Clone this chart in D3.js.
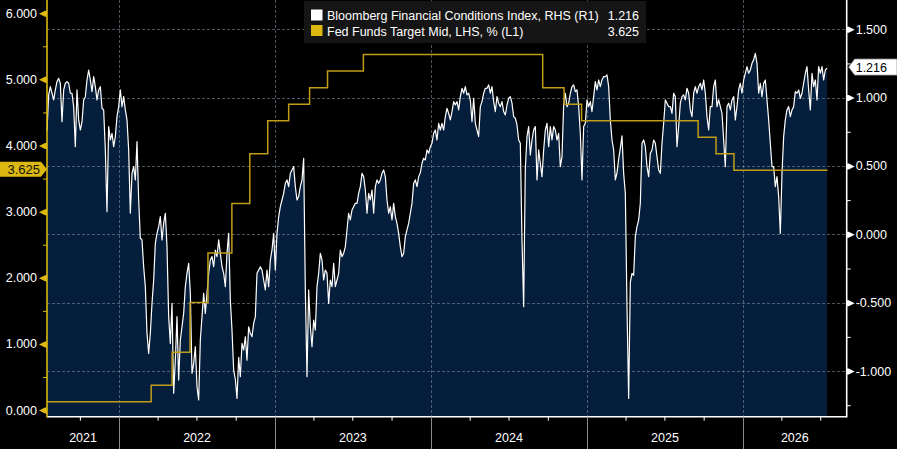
<!DOCTYPE html>
<html>
<head>
<meta charset="utf-8">
<script src="https://cdn.jsdelivr.net/npm/d3@7"></script>
<style>
  body { margin: 0; background: #000; }
  svg { display: block; font-family: "Liberation Sans", Arial, sans-serif; }
</style>
</head>
<body>
<div id="chart"></div>
<script>
// --- data ---
const bfciName = "Bloomberg Financial Conditions Index, RHS (R1)";
const fedName = "Fed Funds Target Mid, LHS, % (L1)";

// BFCI sampled roughly every 3.9 days from the start date
const bfciStart = "2021-07-16";
const bfciStepDays = 3.9035;
const bfci = [
  0.76, 1.02, 1.08, 1.032, 0.983, 1.056, 1.117, 1.141, 1.105, 0.824,
  1.056, 1.105, 1.117, 1.105, 1.032, 1.032, 0.934, 0.641, 1.056, 0.837,
  0.763, 0.824, 0.983, 1.007, 1.129, 1.202, 1.129, 1.044, 1.154, 1.080,
  0.983, 1.056, 1.080, 0.922, 0.910, 0.617, 0.166, 0.788, 0.690, 0.739,
  0.641, 0.715, 0.861, 0.934, 1.056, 0.934, 1.007, 0.910, 0.837, 0.617,
  0.154, 0.446, 0.495, 0.398, 0.678, 0.251, -0.029, -0.041, -0.237, -0.383,
  -0.724, -0.871, -0.724, -0.505, -0.334, -0.066, 0.007, 0.056, 0.129, -0.041,
  0.080, 0.154, -0.090, -0.602, -0.798, -0.505, -1.163, -0.920, -0.602, -1.066,
  -0.773, -0.676, -0.578, -0.383, -0.285, -0.212, -0.432, -1.017, -0.944, -0.822,
  -1.115, -1.212, -0.773, -0.602, -0.432, -0.578, -0.432, -0.285, -0.188, -0.163,
  -0.237, -0.115, -0.163, -0.041, -0.139, -0.237, -0.285, -0.383, -0.139, 0.007,
  -0.480, -0.700, -0.993, -1.06, -1.2, -0.90,
  // 2022 h2 - 2023
  -1.041, -0.798, -0.846, -0.749, -0.920, -0.676, -0.724, -0.749, -0.651, -0.602,
  -0.285, -0.261, -0.237, -0.261, -0.334, -0.407, -0.261, -0.383, -0.188, -0.115,
  0.007, -0.261, 0.007, 0.129, 0.202, 0.251, 0.300, 0.373, 0.398, 0.349,
  0.446, 0.471, 0.495, 0.349, 0.251, 0.276, 0.349, 0.398, 0.556, -0.407,
  -1.041, -0.407, -0.676, -0.822, -0.627, -0.700, -0.383, -0.285, -0.139, -0.188,
  -0.334, -0.261, -0.285, -0.505, -0.334, -0.383, -0.212, -0.383, -0.334, -0.285,
  -0.115, -0.163, -0.139, -0.090, 0.032, 0.154, 0.105, 0.178, 0.202, 0.227,
  0.227, 0.300, 0.349, 0.446, 0.422, 0.324, 0.154, 0.300, 0.251, 0.324,
  0.154, 0.349, 0.398, 0.373, 0.398, 0.446, 0.471, 0.422, 0.251, 0.154,
  0.202, 0.105, 0.227, 0.129, 0.080, 0.007, -0.090, -0.163, -0.139, -0.017,
  0.032, 0.080, 0.154, 0.227, 0.373, 0.398, 0.349, 0.422,
  // late 2023 - early 2025
  0.45, 0.520, 0.556, 0.544, 0.617, 0.593, 0.641, 0.666, 0.739, 0.763,
  0.690, 0.812, 0.763, 0.812, 0.763, 0.861, 0.922, 0.885, 0.837, 0.898,
  0.971, 0.946, 0.971, 0.910, 1.007, 1.068, 1.032, 1.080, 1.020, 1.032,
  0.983, 0.824, 0.995, 0.812, 0.763, 0.715, 0.934, 0.971, 1.032, 1.068,
  1.068, 1.093, 1.032, 1.080, 0.971, 0.898, 1.007, 0.959, 0.934, 0.971,
  0.898, 0.873, 0.946, 0.995, 1.007, 0.959, 0.861, 0.849, 0.800, 0.690,
  0.666, -0.041, -0.529, 0.48, 0.715, 0.788, 0.580, 0.690, 0.763, 0.788,
  0.398, 0.617, 0.520, 0.422, 0.617, 0.763, 0.812, 0.641, 0.788, 0.690,
  0.788, 0.763, 0.690, 0.739, 0.495, 0.568, 0.95, 1.032, 0.934, 0.959,
  1.032, 1.080, 1.093, 1.044, 1.056, 0.934, 0.739, 0.398, 0.788, 0.812,
  0.983, 0.934, 0.971, 0.898, 1.007, 1.117, 1.056, 1.129, 1.080, 1.129,
  1.154, 1.154, 1.166, 1.080,
  // 2025 - 2026
  0.837, 0.690, 0.617, 0.398, 0.45, 0.55, 0.63, 0.72, 0.446, 0.300,
  -0.529, -1.2, -0.35, -0.285, -0.30, -0.017, 0.056, 0.105, 0.227, 0.666,
  0.690, 0.641, 0.495, 0.422, 0.593, 0.617, 0.690, 0.666, 0.568, 0.471,
  0.446, 0.666, 0.812, 0.983, 0.959, 0.934, 0.934, 0.885, 1.032, 1.007,
  0.641, 0.788, 0.959, 1.007, 1.020, 0.983, 1.068, 1.032, 0.910, 0.861,
  1.032, 1.080, 1.032, 1.080, 1.105, 1.056, 1.129, 1.032, 0.861, 0.763,
  0.934, 0.934, 1.080, 1.129, 0.934, 0.983, 0.934, 0.885, 0.690, 0.495,
  0.934, 0.959, 0.910, 0.983, 1.007, 0.837, 0.934, 1.056, 1.105, 1.032,
  1.129, 1.178, 1.227, 1.178, 1.202, 1.251, 1.276, 1.324, 1.251, 1.032,
  1.105, 1.007, 1.105, 1.129, 0.983, 0.837, 0.666, 0.495, 0.495, 0.349,
  0.422, 0.276, 0.007, 0.446, 0.715, 0.837, 0.910, 0.934, 0.861, 0.910,
  0.934, 1.044, 1.032, 1.056, 0.995, 1.032, 1.105, 1.178, 1.227, 1.056,
  0.910, 1.178, 1.080, 1.129, 0.983, 1.227, 1.178, 1.227, 1.129, 1.202,
  1.216
];

// Fed funds target midpoint (step changes)
const fedDates = [
  "2021-07-16", "2022-03-17", "2022-05-05", "2022-06-16", "2022-07-28",
  "2022-09-22", "2022-11-03", "2022-12-15", "2023-02-02", "2023-03-23",
  "2023-05-04", "2023-07-27", "2024-09-19", "2024-11-08", "2024-12-19",
  "2025-09-18", "2025-10-30", "2025-12-11", "2026-07-18"
];
const fedValues = [
  0.125, 0.375, 0.875, 1.625, 2.375,
  3.125, 3.875, 4.375, 4.625, 4.875,
  5.125, 5.375, 4.875, 4.625, 4.375,
  4.125, 3.875, 3.625, 3.625
];

const leftTicks = [0, 1, 2, 3, 4, 5, 6];
const leftMinor = [0.5, 1.5, 2.5, 3.5, 4.5, 5.5];
const rightTicks = [-1, -0.5, 0, 0.5, 1, 1.5];
const rightMinor = [-1.25, -0.75, -0.25, 0.25, 0.75, 1.25];
const xStart = "2021-07-16";
const xEnd = "2026-09-01";

// --- layout ---
const width = 897, height = 449;
const plot = { left: 47, right: 846.7, top: 0, bottom: 416.7 };
const yellow = "#dcb810";
const fedColor = "#bf9d18";
const fillColor = "#041e3c";

const svg = d3.select("#chart").append("svg")
  .attr("width", width).attr("height", height)
  .style("background", "#000");

const x = d3.scaleUtc()
  .domain([new Date(xStart), new Date(xEnd)])
  .range([plot.left, plot.right]);
const yL = d3.scaleLinear().domain([-0.1, 6.2]).range([plot.bottom, plot.top]);
const yR = d3.scaleLinear().domain([-1.334, 1.714]).range([plot.bottom, plot.top]);

const t0 = Date.parse(bfciStart);
const bfciData = bfci.map((v, i) => ({ date: new Date(t0 + i * bfciStepDays * 864e5), v }));
const fedData = fedDates.map((d, i) => ({ date: new Date(d), v: fedValues[i] }));

// area (BFCI)
svg.append("path")
  .datum(bfciData)
  .attr("fill", fillColor)
  .attr("d", d3.area().x(d => x(d.date)).y0(plot.bottom).y1(d => yR(d.v)));

// grid
const grid = svg.append("g").attr("stroke", "#7d8c9c").attr("stroke-opacity", 0.6)
  .attr("stroke-dasharray", "3,2").attr("stroke-width", 1);
grid.selectAll(".h").data(rightTicks).join("line")
  .attr("x1", plot.left).attr("x2", plot.right)
  .attr("y1", d => Math.round(yR(d)) + 0.5).attr("y2", d => Math.round(yR(d)) + 0.5);
const years = d3.utcYear.range(new Date(xStart), new Date(xEnd));
grid.selectAll(".v").data(years).join("line")
  .attr("x1", d => Math.round(x(d)) + 0.5).attr("x2", d => Math.round(x(d)) + 0.5)
  .attr("y1", plot.top).attr("y2", plot.bottom);

// BFCI line
svg.append("path")
  .datum(bfciData)
  .attr("fill", "none")
  .attr("stroke", "#fff")
  .attr("stroke-width", 1.2)
  .attr("stroke-linejoin", "round")
  .attr("d", d3.line().x(d => x(d.date)).y(d => yR(d.v)));

// Fed funds step line
svg.append("path")
  .datum(fedData)
  .attr("fill", "none")
  .attr("stroke", fedColor)
  .attr("stroke-width", 1.5)
  .attr("d", d3.line().curve(d3.curveStepAfter).x(d => x(d.date)).y(d => yL(d.v)));

// bottom axis
const quarters = d3.utcMonth.every(3).range(new Date(xStart), new Date(xEnd))
  .filter(d => d.getUTCMonth() !== 0);
const xAxis = svg.append("g")
  .attr("transform", `translate(0,${plot.bottom})`)
  .call(d3.axisBottom(x).tickValues(quarters).tickSize(4).tickFormat(""));
xAxis.select(".domain").remove();
xAxis.selectAll(".tick line").attr("stroke", "#fff");
svg.append("line")
  .attr("x1", plot.left).attr("x2", plot.right)
  .attr("y1", plot.bottom).attr("y2", plot.bottom)
  .attr("stroke", "#fff").attr("stroke-width", 1.5);
svg.selectAll(".sep").data(years).join("line")
  .attr("x1", d => Math.round(x(d)) + 0.5).attr("x2", d => Math.round(x(d)) + 0.5)
  .attr("y1", plot.bottom).attr("y2", height)
  .attr("stroke", "#8a8a8a").attr("stroke-width", 1);
const yearBands = d3.utcYear.range(d3.utcYear.floor(new Date(xStart)), new Date(xEnd));
svg.selectAll(".yl").data(yearBands).join("text")
  .attr("x", d => {
    const a = Math.max(x(d), plot.left);
    const b = Math.min(x(d3.utcYear.offset(d, 1)), plot.right);
    return (a + b) / 2;
  })
  .attr("y", 442)
  .attr("text-anchor", "middle")
  .attr("fill", "#fff")
  .style("font-size", "12.5px")
  .text(d => d.getUTCFullYear());

// left axis
const leftAxis = svg.append("g")
  .attr("transform", `translate(${plot.left},0)`)
  .call(d3.axisLeft(yL).tickValues(leftTicks).tickSize(0).tickPadding(10)
    .tickFormat(d => d.toFixed(3)));
leftAxis.select(".domain").remove();
leftAxis.selectAll(".tick text").attr("fill", "#fff").style("font-size", "12.5px")
  .attr("font-family", "Liberation Sans, Arial, sans-serif");
leftAxis.selectAll(".tick").append("path")
  .attr("d", "M-8,0 L-2,-3 L0,-3 L0,3 L-2,3 Z")
  .attr("fill", yellow);
const leftMinorAxis = svg.append("g")
  .attr("transform", `translate(${plot.left},0)`)
  .call(d3.axisLeft(yL).tickValues(leftMinor).tickSize(4).tickFormat(""));
leftMinorAxis.select(".domain").remove();
leftMinorAxis.selectAll(".tick line").attr("stroke", yellow);
svg.append("line")
  .attr("x1", plot.left).attr("x2", plot.left)
  .attr("y1", plot.top).attr("y2", plot.bottom + 0.7)
  .attr("stroke", yellow).attr("stroke-width", 1.6);

// right axis
const rightAxis = svg.append("g")
  .attr("transform", `translate(${plot.right},0)`)
  .call(d3.axisRight(yR).tickValues(rightTicks).tickSize(0).tickPadding(9)
    .tickFormat(d => d.toFixed(3)));
rightAxis.select(".domain").remove();
rightAxis.selectAll(".tick text").attr("fill", "#fff").style("font-size", "12.5px")
  .attr("font-family", "Liberation Sans, Arial, sans-serif");
rightAxis.selectAll(".tick").append("path")
  .attr("d", "M8,0 L2,-3 L0,-3 L0,3 L2,3 Z")
  .attr("fill", "#fff");
const rightMinorAxis = svg.append("g")
  .attr("transform", `translate(${plot.right},0)`)
  .call(d3.axisRight(yR).tickValues(rightMinor).tickSize(4).tickFormat(""));
rightMinorAxis.select(".domain").remove();
rightMinorAxis.selectAll(".tick line").attr("stroke", "#fff");
svg.append("line")
  .attr("x1", plot.right).attr("x2", plot.right)
  .attr("y1", plot.top).attr("y2", plot.bottom + 0.7)
  .attr("stroke", "#fff").attr("stroke-width", 1.6);

// last-value tags
const lastB = bfci[bfci.length - 1];
const lastF = fedValues[fedValues.length - 1];
const yb = yR(lastB) - 1;
svg.append("path")
  .attr("d", `M${plot.right + 2},${yb} L${plot.right + 8},${yb - 8} L${width},${yb - 8} L${width},${yb + 8} L${plot.right + 8},${yb + 8} Z`)
  .attr("fill", "#fff").attr("stroke", "#999").attr("stroke-width", 0.8);
svg.append("text")
  .attr("x", plot.right + 9).attr("y", yb + 4.5)
  .attr("fill", "#000").style("font-size", "12.5px")
  .text(lastB.toFixed(3));
const yf = yL(lastF) - 1;
svg.append("path")
  .attr("d", `M0,${yf - 7.5} L${plot.left - 6},${yf - 7.5} L${plot.left},${yf} L${plot.left - 6},${yf + 7.5} L0,${yf + 7.5} Z`)
  .attr("fill", yellow);
svg.append("text")
  .attr("x", plot.left - 7).attr("y", yf + 4.5)
  .attr("text-anchor", "end")
  .attr("fill", "#111").style("font-size", "13px")
  .text(lastF.toFixed(3));

// legend
const legend = svg.append("g");
legend.append("rect")
  .attr("x", 304).attr("y", 1).attr("width", 342).attr("height", 42)
  .attr("fill", "#151515");
const rows = [
  { name: bfciName, value: lastB.toFixed(3), color: "#fff" },
  { name: fedName, value: lastF.toFixed(3), color: yellow }
];
const row = legend.selectAll(".row").data(rows).join("g")
  .attr("transform", (d, i) => `translate(0,${20 + i * 15.5})`);
row.append("rect").attr("x", 311).attr("y", -10.5).attr("width", 11.5).attr("height", 11)
  .attr("fill", d => d.color);
row.append("text").attr("x", 327).attr("y", 0).attr("fill", "#fff")
  .style("font-size", "12.5px").text(d => d.name);
row.append("text").attr("x", 639).attr("y", 0).attr("text-anchor", "end").attr("fill", "#fff")
  .style("font-size", "12.5px").text(d => d.value);
</script>
</body>
</html>
